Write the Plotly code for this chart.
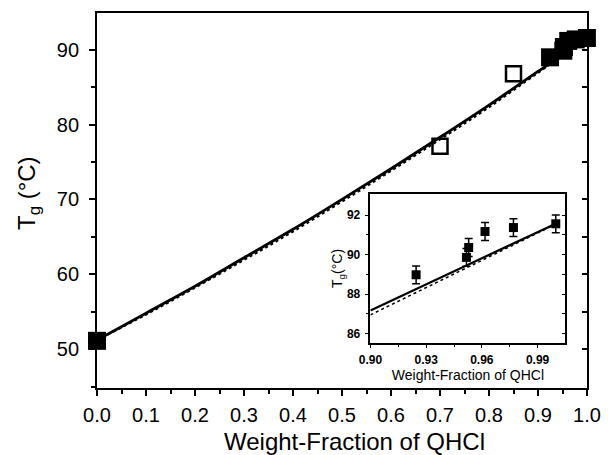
import plotly.graph_objects as go

# ---------------- data ----------------
# main panel: fitted curves (solid and dotted)
fit_w = [0.0, 0.1, 0.2, 0.3, 0.4, 0.5, 0.6, 0.7, 0.8, 0.9, 0.95, 1.0]
fit_solid = [51.2, 54.8, 58.4, 62.2, 66.0, 70.0, 74.1, 78.3, 82.6, 87.1, 89.3, 91.6]
fit_dotted = [51.2, 54.6, 58.2, 61.9, 65.7, 69.7, 73.8, 78.0, 82.3, 86.9, 89.2, 91.55]

# filled squares (experimental)
filled_w = [0.0, 0.9246, 0.9517, 0.9529, 0.9617, 0.977, 0.9998]
filled_tg = [51.1, 88.98, 89.86, 90.36, 91.17, 91.37, 91.56]
filled_err = [0.0, 0.45, 0.45, 0.45, 0.45, 0.45, 0.45]

# open squares
open_w = [0.70, 0.85]
open_tg = [77.1, 86.8]

# inset curves
inset_w = [0.90, 0.925, 0.95, 0.975, 1.0]
inset_solid = [87.17, 88.27, 89.37, 90.47, 91.58]
inset_dotted = [86.95, 88.10, 89.25, 90.40, 91.55]

main_xticks = [0.0, 0.1, 0.2, 0.3, 0.4, 0.5, 0.6, 0.7, 0.8, 0.9, 1.0]
main_yticks = [50, 60, 70, 80, 90]
inset_xticks = [0.90, 0.93, 0.96, 0.99]
inset_yticks = [86, 88, 90, 92]

FONT = "Liberation Sans, Arial, sans-serif"

fig = go.Figure()

# ---------------- main panel ----------------
fig.add_trace(go.Scatter(x=fit_w, y=fit_dotted, mode="lines", line=dict(color="black", width=2, dash="dot", shape="spline"),
                         xaxis="x", yaxis="y", showlegend=False))
fig.add_trace(go.Scatter(x=fit_w, y=fit_solid, mode="lines", line=dict(color="black", width=2.8, shape="spline"),
                         xaxis="x", yaxis="y", showlegend=False))
fig.add_trace(go.Scatter(x=open_w, y=open_tg, mode="markers", cliponaxis=False,
                         marker=dict(symbol="square-open", size=15, color="black", line=dict(width=2.5, color="black")),
                         xaxis="x", yaxis="y", showlegend=False))
fig.add_trace(go.Scatter(x=filled_w, y=filled_tg, mode="markers", cliponaxis=False,
                         marker=dict(symbol="square", size=18, color="black"),
                         xaxis="x", yaxis="y", showlegend=False))
# dummy trace for mirrored inward ticks on the right
fig.add_trace(go.Scatter(x=[None], y=[None], xaxis="x", yaxis="y3", showlegend=False, hoverinfo="skip"))

# ---------------- inset ----------------
fig.add_trace(go.Scatter(x=inset_w, y=inset_dotted, mode="lines", line=dict(color="black", width=1.5, dash="dot"),
                         xaxis="x2", yaxis="y2", showlegend=False))
fig.add_trace(go.Scatter(x=inset_w, y=inset_solid, mode="lines", line=dict(color="black", width=2.2),
                         xaxis="x2", yaxis="y2", showlegend=False))
fig.add_trace(go.Scatter(x=filled_w[1:], y=filled_tg[1:], mode="markers", cliponaxis=False,
                         marker=dict(symbol="square", size=9, color="black"),
                         error_y=dict(type="data", array=filled_err[1:], color="black", thickness=1.5, width=4),
                         xaxis="x2", yaxis="y2", showlegend=False))
fig.add_trace(go.Scatter(x=[None], y=[None], xaxis="x2", yaxis="y4", showlegend=False, hoverinfo="skip"))

fig.update_layout(
    width=612, height=455,
    margin=dict(l=97, r=15, t=11, b=67),
    paper_bgcolor="white", plot_bgcolor="white",
    font=dict(family=FONT, color="black"),
    xaxis=dict(domain=[0, 1], range=[0, 1.0], tickvals=main_xticks, ticktext=[f"{v:.1f}" for v in main_xticks],
               ticks="outside", ticklen=6, tickwidth=1.5, tickcolor="black",
               minor=dict(dtick=0.05, tick0=0, ticks="outside", ticklen=4, tickwidth=1.5, tickcolor="black"),
               showline=True, linecolor="black", linewidth=1.8, mirror=True, showgrid=False, zeroline=False,
               tickfont=dict(size=20), ticklabelstandoff=2),
    yaxis=dict(domain=[0, 1], range=[44.8, 94.9], tickvals=main_yticks,
               ticks="outside", ticklen=6, tickwidth=1.5, tickcolor="black",
               minor=dict(dtick=5, tick0=0, ticks="outside", ticklen=4, tickwidth=1.5, tickcolor="black"),
               showline=True, linecolor="black", linewidth=1.8, mirror=True, showgrid=False, zeroline=False,
               tickfont=dict(size=20), ticklabelstandoff=6),
    yaxis3=dict(overlaying="y", side="right", anchor="x", range=[44.8, 94.9], tickvals=[50, 55, 60, 65, 70, 75, 80, 85, 90],
                ticks="inside", ticklen=5, tickwidth=1.5, tickcolor="black", showticklabels=False,
                showgrid=False, zeroline=False, showline=False),
    xaxis2=dict(domain=[0.558, 0.956], anchor="y2", range=[0.90, 1.005], tickvals=inset_xticks,
                ticktext=[f"{v:.2f}" for v in inset_xticks],
                ticks="outside", ticklen=4, tickwidth=1.2, tickcolor="black",
                minor=dict(tickvals=[0.915, 0.945, 0.975], ticks="outside", ticklen=3, tickwidth=1.2, tickcolor="black"),
                showline=True, linecolor="black", linewidth=1.5, mirror=True, showgrid=False, zeroline=False,
                tickfont=dict(size=12, weight="bold"), ticklabelstandoff=1,
                title=dict(text="Weight-Fraction of QHCl", font=dict(size=14), standoff=1)),
    yaxis2=dict(domain=[0.1212, 0.5164], anchor="x2", range=[85.55, 93.05], tickvals=inset_yticks,
                ticks="outside", ticklen=4, tickwidth=1.2, tickcolor="black",
                minor=dict(tickvals=[87, 89, 91], ticks="outside", ticklen=3, tickwidth=1.2, tickcolor="black"),
                showline=True, linecolor="black", linewidth=1.5, mirror=True, showgrid=False, zeroline=False,
                tickfont=dict(size=12, weight="bold"), ticklabelstandoff=2,
                title=dict(text="T<sub>g</sub>(°C)", font=dict(size=14), standoff=1)),
    yaxis4=dict(overlaying="y2", side="right", anchor="x2", range=[85.55, 93.05], tickvals=[86, 87, 88, 89, 90, 91, 92],
                ticks="inside", ticklen=3, tickwidth=1.2, tickcolor="black", showticklabels=False,
                showgrid=False, zeroline=False, showline=False),
    annotations=[
        dict(text="Weight-Fraction of QHCl", xref="paper", yref="paper", x=0.526, y=-0.143,
             xanchor="center", yanchor="middle", showarrow=False, font=dict(size=24)),
        dict(text="T<sub>g</sub> (°C)", xref="paper", yref="paper", x=-0.14, y=0.521, textangle=-90,
             xanchor="center", yanchor="middle", showarrow=False, font=dict(size=24)),
    ],
)

fig.write_html("out.html")
